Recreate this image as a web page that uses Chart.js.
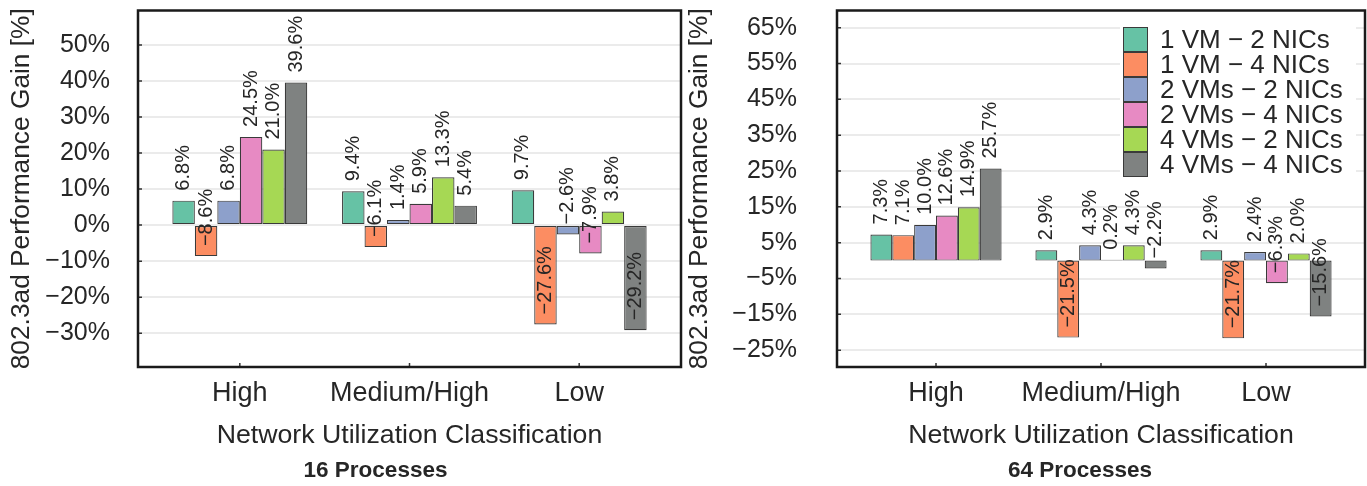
<!DOCTYPE html>
<html>
<head>
<meta charset="utf-8">
<script src="https://cdn.jsdelivr.net/npm/chart.js@4.4.1/dist/chart.umd.min.js"></script>
<style>
  body { margin: 0; background: #fff; }
  canvas { position: absolute; top: 0; }
</style>
</head>
<body>
<canvas id="chart16" width="683" height="486" style="left:0"></canvas>
<canvas id="chart64" width="684" height="486" style="left:683px"></canvas>
<script>
const categories = ['High', 'Medium/High', 'Low'];
const seriesNames = ['1 VM − 2 NICs', '1 VM − 4 NICs', '2 VMs − 2 NICs', '2 VMs − 4 NICs', '4 VMs − 2 NICs', '4 VMs − 4 NICs'];
const seriesColors = ['#66c2a5', '#fc8d62', '#8da0cb', '#e78ac3', '#a6d854', '#7f8281'];

// 16 processes
const g16_1vm2nic = [6.8, 9.4, 9.7];
const g16_1vm4nic = [-8.6, -6.1, -27.6];
const g16_2vm2nic = [6.8, 1.4, -2.6];
const g16_2vm4nic = [24.5, 5.9, -7.9];
const g16_4vm2nic = [21.0, 13.3, 3.8];
const g16_4vm4nic = [39.6, 5.4, -29.2];
const ticks16 = [-30, -20, -10, 0, 10, 20, 30, 40, 50];

// 64 processes
const g64_1vm2nic = [7.3, 2.9, 2.9];
const g64_1vm4nic = [7.1, -21.5, -21.7];
const g64_2vm2nic = [10.0, 4.3, 2.4];
const g64_2vm4nic = [12.6, 0.2, -6.3];
const g64_4vm2nic = [14.9, 4.3, 2.0];
const g64_4vm4nic = [25.7, -2.2, -15.6];
const ticks64 = [-25, -15, -5, 5, 15, 25, 35, 45, 55, 65];

const FONT = "'Liberation Sans', Arial, sans-serif";
const INK = '#262626';

Chart.defaults.font.family = FONT;
Chart.defaults.color = INK;

const pct = v => (v < 0 ? '−' : '') + Math.abs(v) + '%';
const pct1 = v => (v < 0 ? '−' : '') + Math.abs(v).toFixed(1) + '%';

// value labels, rotated, starting just above the value point
const barLabels = {
  id: 'barLabels',
  afterDatasetsDraw(chart) {
    const { ctx } = chart;
    const y = chart.scales.y;
    ctx.save();
    ctx.font = '20px ' + FONT;
    ctx.fillStyle = INK;
    ctx.textAlign = 'left';
    ctx.textBaseline = 'middle';
    chart.data.datasets.forEach((ds, i) => {
      chart.getDatasetMeta(i).data.forEach((bar, j) => {
        const v = ds.data[j].y;
        ctx.save();
        ctx.translate(bar.x, y.getPixelForValue(v) - 10);
        ctx.rotate(-Math.PI / 2);
        ctx.fillText(pct1(v), 0, 0);
        ctx.restore();
      });
    });
    ctx.restore();
  }
};

// panel box, inward tick marks and the bold caption under the axis title
const frame = {
  id: 'frame',
  afterDraw(chart, args, opts) {
    const { ctx, chartArea: a } = chart;
    const { x, y } = chart.scales;
    ctx.save();
    ctx.strokeStyle = '#333';
    ctx.lineWidth = 1.5;
    ctx.beginPath();
    y.ticks.forEach(t => {
      const py = y.getPixelForValue(t.value);
      ctx.moveTo(a.left, py); ctx.lineTo(a.left + 4, py);
    });
    x.ticks.forEach(t => {
      const px = x.getPixelForValue(t.value);
      ctx.moveTo(px, a.bottom); ctx.lineTo(px, a.bottom - 4);
    });
    ctx.stroke();
    ctx.strokeStyle = '#1a1a1a';
    ctx.lineWidth = 2.5;
    ctx.strokeRect(a.left, a.top, a.right - a.left, a.bottom - a.top);

    ctx.font = 'bold 22.5px ' + FONT;
    ctx.fillStyle = INK;
    ctx.textAlign = 'center';
    ctx.textBaseline = 'middle';
    ctx.fillText(opts.caption, (a.left + a.right) / 2 - opts.shift, chart.height - 15);
    ctx.restore();
  }
};

// legend box inside the top right of the plot
const insetLegend = {
  id: 'insetLegend',
  afterDatasetsDraw(chart, args, opts) {
    if (!opts.show) return;
    const { ctx, chartArea: a } = chart;
    const left = a.right - 242, top = a.top + 16.5, row = 25;
    ctx.save();
    ctx.fillStyle = '#fff';
    ctx.fillRect(left - 3, top - 1, 236, row * 6 + 2);
    ctx.font = '26px ' + FONT;
    ctx.textBaseline = 'middle';
    chart.data.datasets.forEach((ds, i) => {
      const ty = top + i * row;
      ctx.fillStyle = ds.backgroundColor;
      ctx.fillRect(left, ty, 25, row);
      ctx.strokeStyle = '#3a3a3a';
      ctx.lineWidth = 1;
      ctx.strokeRect(left + 0.5, ty + 0.5, 24, row - 1);
      ctx.fillStyle = INK;
      ctx.fillText(ds.label, left + 37, ty + row / 2 + 1);
    });
    ctx.restore();
  }
};

function makeChart(id, series, yTicks, yMin, yMax, axisWidth, tickPad, titlePad, caption, shift, legend) {
  return new Chart(document.getElementById(id), {
    type: 'bar',
    data: {
      datasets: series.map((vals, i) => ({
        label: seriesNames[i],
        data: vals.map((v, k) => ({ x: k, y: v })),
        backgroundColor: seriesColors[i],
        borderColor: '#3a3a3a',
        borderWidth: 1.2,
        borderSkipped: false,
        categoryPercentage: 0.795,
        barPercentage: 1
      }))
    },
    options: {
      responsive: false,
      animation: false,
      devicePixelRatio: 1,
      layout: { padding: { top: 10.5, right: 2, left: 0, bottom: 28.6 } },
      plugins: {
        legend: { display: false },
        tooltip: { enabled: false },
        insetLegend: { show: legend },
        frame: { caption: caption, shift: shift }
      },
      scales: {
        x: {
          type: 'linear',
          offset: false,
          min: -0.6,
          max: 2.6,
          afterBuildTicks: s => { s.ticks = categories.map((c, k) => ({ value: k })); },
          afterFit: s => { s.height = 90.4; s.paddingLeft = 0; s.paddingRight = 0; },
          grid: { display: false },
          border: { display: false },
          ticks: { padding: 2.4, font: { size: 27 }, color: INK, maxRotation: 0, autoSkip: false, callback: v => categories[v] },
          title: {
            display: true,
            text: 'Network Utilization Classification',
            font: { size: 26.7 },
            color: INK,
            padding: { top: 0, bottom: 5.4 }
          }
        },
        y: {
          min: yMin,
          max: yMax,
          afterBuildTicks: s => { s.ticks = yTicks.map(v => ({ value: v })); },
          afterFit: s => { s.width = axisWidth; s.paddingTop = 0; s.paddingBottom = 0; },
          grid: { color: '#ebebeb', lineWidth: 2, drawTicks: false },
          border: { display: false },
          ticks: { padding: tickPad, font: { size: 25 }, color: INK, callback: v => pct(v) },
          title: {
            display: true,
            text: '802.3ad Performance Gain [%]',
            font: { size: 26.3 },
            color: INK,
            padding: { top: titlePad, bottom: 0 }
          }
        }
      }
    },
    plugins: [barLabels, insetLegend, frame]
  });
}

makeChart('chart16',
  [g16_1vm2nic, g16_1vm4nic, g16_2vm2nic, g16_2vm4nic, g16_4vm2nic, g16_4vm4nic],
  ticks16, -39.4, 59.6, 138, 28, 6.4, '16 Processes', 34, false);

makeChart('chart64',
  [g64_1vm2nic, g64_1vm4nic, g64_2vm2nic, g64_2vm4nic, g64_4vm2nic, g64_4vm4nic],
  ticks64, -29.7, 69.8, 154, 40, 1.4, '64 Processes', 21, true);
</script>
</body>
</html>
